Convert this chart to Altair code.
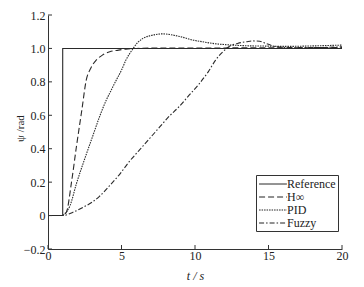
import altair as alt
import pandas as pd

# Reference step
ref_t = [0, 1, 1, 20]
ref_v = [0, 0, 1, 1]

# H-infinity response
hinf_t = [0, 1.0, 1.25, 1.6, 1.93, 2.3, 2.6, 2.9, 3.28, 3.7, 4.2, 4.8, 5.3, 6.0, 8, 12, 16, 20]
hinf_v = [0, 0, 0.02, 0.2, 0.41, 0.63, 0.81, 0.88, 0.93, 0.96, 0.98, 0.99, 0.996, 1.0, 1.003, 1.003, 1.004, 1.005]

# PID response
pid_t = [0, 1.0, 1.13, 1.5, 1.93, 2.5, 3.06, 3.5, 3.96, 4.3, 4.64, 5.0, 5.3, 5.78, 6.1, 6.46, 7.0, 7.8, 8.5, 9.2, 9.85, 10.5, 11.2, 12.57, 13.5, 14.8, 16, 18, 20]
pid_v = [0, 0, 0.01, 0.06, 0.19, 0.34, 0.48, 0.59, 0.69, 0.75, 0.81, 0.87, 0.93, 0.998, 1.035, 1.06, 1.077, 1.087, 1.08, 1.066, 1.05, 1.04, 1.03, 1.02, 1.016, 1.014, 1.012, 1.015, 1.02]

# Fuzzy response
fuzzy_t = [0, 1.0, 1.7, 2.4, 3.0, 3.5, 4.2, 4.9, 5.5, 6.2, 6.9, 7.6, 8.2, 8.9, 9.6, 10.3, 10.9, 11.4, 11.9, 12.3, 12.9, 13.5, 13.9, 14.4, 14.8, 15.2, 15.5, 16.5, 18, 20]
fuzzy_v = [0, 0, 0.02, 0.05, 0.08, 0.115, 0.18, 0.25, 0.32, 0.39, 0.46, 0.53, 0.59, 0.65, 0.72, 0.79, 0.86, 0.93, 0.98, 1.01, 1.03, 1.04, 1.045, 1.043, 1.03, 1.018, 1.01, 1.005, 1.005, 1.01]

series_names = ["Reference", "H∞", "PID", "Fuzzy"]

rows = []
for name, ts, vs in zip(series_names, [ref_t, hinf_t, pid_t, fuzzy_t], [ref_v, hinf_v, pid_v, fuzzy_v]):
    for i, (t, v) in enumerate(zip(ts, vs)):
        rows.append({"series": name, "t": t, "v": v, "order": i})
df = pd.DataFrame(rows)

x_ticks = [0, 5, 10, 15, 20]
y_ticks = [-0.2, 0, 0.2, 0.4, 0.6, 0.8, 1.0, 1.2]

FONT = "'Liberation Serif', 'Times New Roman', serif"

xscale = alt.Scale(domain=[0, 20], nice=False, zero=False)
yscale = alt.Scale(domain=[-0.2, 1.2], nice=False, zero=False)

lines = alt.Chart(df).mark_line(strokeWidth=1.1, interpolate="monotone", color="#2a2a2a").encode(
    x=alt.X("t:Q", scale=xscale,
            axis=alt.Axis(values=x_ticks, title="t / s", titleFont=FONT, titleFontSize=12,
                          titleFontWeight="normal", titleFontStyle="italic", titleColor="#222",
                          labelFont=FONT, labelFontSize=12, labelColor="#222", ticks=False,
                          labelOverlap=False, labelFlush=False,
                          domainColor="#333", grid=False, labelPadding=1, titlePadding=9)),
    y=alt.Y("v:Q", scale=yscale,
            axis=alt.Axis(values=y_ticks, title="ψ /rad", titleFont=FONT, titleFontSize=11,
                          titleFontWeight="normal", titleColor="#222",
                          titleX=-23, titleY=113,
                          labelFont=FONT, labelFontSize=12, labelColor="#222", ticks=False,
                          labelOverlap=False, labelFlush=False,
                          labelExpr="datum.value == 0 ? '0' : format(datum.value, '.1f')",
                          domainColor="#333", grid=False, labelPadding=3)),
    order="order:Q",
    strokeDash=alt.StrokeDash("series:N", sort=series_names,
                              scale=alt.Scale(domain=series_names,
                                              range=[[1, 0], [6, 3], [1.5, 1], [5, 2, 1.5, 2]]),
                              legend=alt.Legend(title=None, orient="none", legendX=208, legendY=160,
                                                labelFont=FONT, labelFontSize=12, labelColor="#222",
                                                symbolType="M-2.2,0H2.2", symbolSize=160,
                                                symbolOffset=8,
                                                symbolStrokeColor="#222", symbolStrokeWidth=1,
                                                labelOffset=7, rowPadding=0, padding=2,
                                                fillColor="white", strokeColor="#333")),
)

tick_df_x = pd.DataFrame({"t": x_ticks})
xt = alt.Chart(tick_df_x).mark_rule(color="#333").encode(
    x=alt.X("t:Q", scale=xscale, axis=None),
    y=alt.value(234), y2=alt.value(230))

tick_df_y = pd.DataFrame({"v": y_ticks})
yt = alt.Chart(tick_df_y).mark_rule(color="#333").encode(
    y=alt.Y("v:Q", scale=yscale, axis=None),
    x=alt.value(0), x2=alt.value(4))

chart = alt.layer(lines, xt, yt).resolve_axis(x="independent", y="independent").properties(
    width=294, height=234,
    autosize=alt.AutoSizeParams(type="none"),
    padding={"left": 48, "top": 15, "right": 22, "bottom": 38},
    background="white",
).configure_view(stroke=None)

chart.save("out.html", embed_options={"renderer": "svg", "actions": False})
